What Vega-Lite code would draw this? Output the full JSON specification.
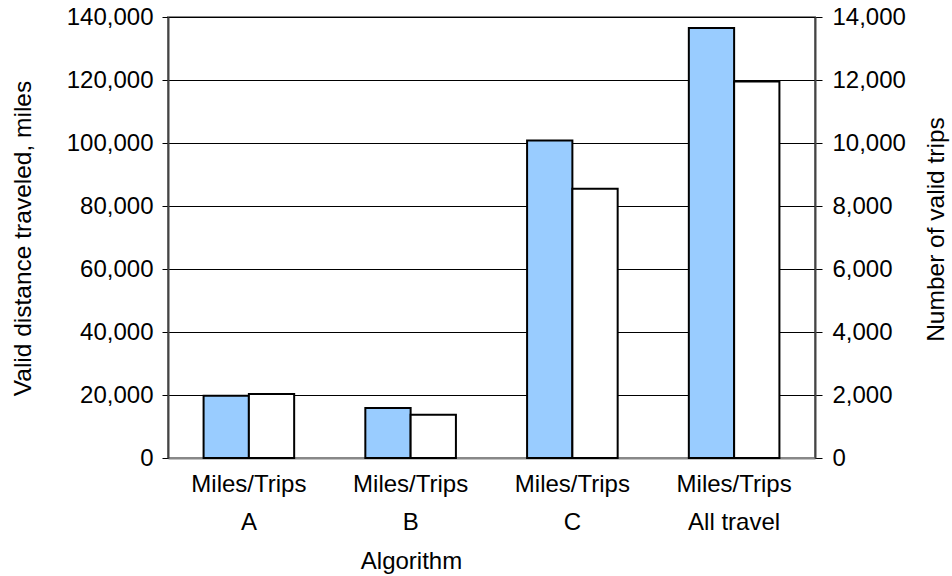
{
  "$schema": "https://vega.github.io/schema/vega-lite/v6.json",
  "width": 647,
  "height": 441,
  "autosize": {"type": "none"},
  "padding": {"left": 168, "top": 17, "right": 137, "bottom": 118},
  "background": "white",
  "config": {
    "view": {"stroke": "#888888", "strokeWidth": 2},
    "font": "Liberation Sans",
    "axis": {"labelFont": "Liberation Sans", "titleFont": "Liberation Sans", "labelColor": "#000", "titleColor": "#000", "titleFontWeight": "normal", "labelFontSize": 24, "titleFontSize": 24}
  },
  "data": {
    "values": [
      {"algorithm": "A", "series": "Miles", "value": 19800},
      {"algorithm": "B", "series": "Miles", "value": 15900},
      {"algorithm": "C", "series": "Miles", "value": 100800},
      {"algorithm": "All travel", "series": "Miles", "value": 136500},
      {"algorithm": "A", "series": "Trips", "value": 2030},
      {"algorithm": "B", "series": "Trips", "value": 1370},
      {"algorithm": "C", "series": "Trips", "value": 8550},
      {"algorithm": "All travel", "series": "Trips", "value": 11950}
    ]
  },
  "encoding": {
    "x": {
      "field": "algorithm",
      "type": "nominal",
      "sort": ["A", "B", "C", "All travel"],
      "scale": {"paddingInner": 0.44, "paddingOuter": 0.22},
      "axis": {
        "title": "Algorithm",
        "labelAngle": 0,
        "ticks": false,
        "domain": true,
        "domainColor": "#888888",
        "domainWidth": 2,
        "labelPadding": 14,
        "labelLineHeight": 38,
        "labelBaseline": "top",
        "labelExpr": "['Miles/Trips', datum.label]",
        "titleX": 243,
        "titleAlign": "center",
        "titlePadding": 15
      }
    },
    "xOffset": {"field": "series", "type": "nominal", "scale": {"domain": ["Miles", "Trips"], "paddingInner": 0, "paddingOuter": 0}}
  },
  "layer": [
    {
      "transform": [{"filter": "datum.series === 'Miles'"}],
      "mark": {"type": "bar", "fill": "#99CCFF", "stroke": "#000000", "strokeWidth": 2},
      "encoding": {
        "y": {
          "field": "value",
          "type": "quantitative",
          "scale": {"domain": [0, 140000]},
          "axis": {
            "title": "Valid distance traveled, miles",
            "orient": "left",
            "values": [0, 20000, 40000, 60000, 80000, 100000, 120000, 140000],
            "format": ",d",
            "grid": true,
            "gridColor": "#000000",
            "gridWidth": 1,
            "gridOpacity": 1,
            "domainColor": "#444444",
            "domainWidth": 2,
            "tickColor": "#000000",
            "tickSize": 6,
            "labelPadding": 9,
            "titleFontSize": 24.5,
            "titleAngle": 270,
            "titleX": -145,
            "titleY": 221,
            "titleAlign": "center",
            "titleBaseline": "middle"
          }
        }
      }
    },
    {
      "transform": [{"filter": "datum.series === 'Trips'"}],
      "mark": {"type": "bar", "fill": "#FFFFFF", "stroke": "#000000", "strokeWidth": 2},
      "encoding": {
        "y": {
          "field": "value",
          "type": "quantitative",
          "scale": {"domain": [0, 14000]},
          "axis": {
            "title": "Number of valid trips",
            "orient": "right",
            "values": [0, 2000, 4000, 6000, 8000, 10000, 12000, 14000],
            "format": ",d",
            "grid": false,
            "domainColor": "#444444",
            "domainWidth": 2,
            "tickColor": "#000000",
            "tickSize": 7,
            "labelPadding": 10,
            "titleFontSize": 24.5,
            "titleAngle": 270,
            "titleX": 121,
            "titleY": 212,
            "titleAlign": "center",
            "titleBaseline": "middle"
          }
        }
      }
    }
  ],
  "resolve": {"scale": {"y": "independent"}}
}
